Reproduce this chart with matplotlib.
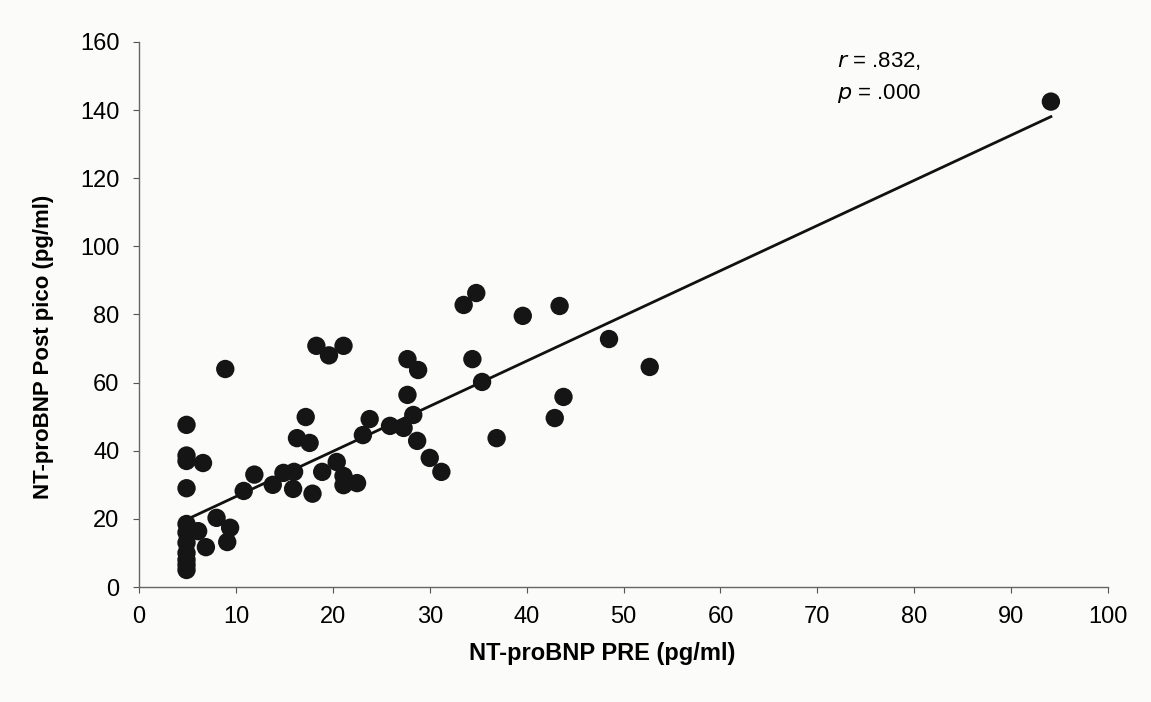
import numpy as np
import matplotlib
matplotlib.use("Agg")
import matplotlib.pyplot as plt

pre = [4.9, 4.9, 4.9, 4.9, 4.9, 4.9, 4.9, 4.9, 4.9, 4.9, 4.9,
       6.1, 6.6, 6.9, 8.0, 9.4, 9.1, 8.9,
       10.8, 11.9, 13.8, 14.9, 16.0, 15.9, 17.9, 18.9, 20.4, 21.1, 21.1, 22.5,
       16.3, 17.6, 17.2, 18.3, 19.6, 21.1, 23.1, 23.8, 25.9, 27.3, 28.7, 30.0,
       31.2, 28.3, 27.7, 27.7, 28.8, 34.4, 35.4, 33.5, 34.8, 39.6, 43.4, 48.5,
       52.7, 43.8, 42.9, 36.9, 94.1]
post = [47.6, 38.6, 37.0, 29.0, 18.5, 16.0, 13.0, 10.0, 8.0, 6.5, 5.0,
        16.4, 36.4, 11.7, 20.3, 17.4, 13.2, 64.0,
        28.2, 33.0, 30.0, 33.5, 33.8, 28.8, 27.4, 33.8, 36.7, 32.6, 29.9, 30.5,
        43.7, 42.3, 49.9, 70.8, 68.0, 70.8, 44.6, 49.3, 47.3, 46.7, 42.9, 37.9,
        33.8, 50.5, 56.4, 66.9, 63.7, 66.9, 60.2, 82.8, 86.3, 79.6, 82.5, 72.8,
        64.6, 55.8, 49.6, 43.7, 142.5]

# regression line as drawn in the reference
fit_slope = 1.326
fit_intercept = 13.3

x_ticks = [0, 10, 20, 30, 40, 50, 60, 70, 80, 90, 100]
y_ticks = [0, 20, 40, 60, 80, 100, 120, 140, 160]

plt.rcParams["font.family"] = ["Liberation Sans", "DejaVu Sans"]

fig = plt.figure(figsize=(11.51, 7.02), dpi=100)
fig.patch.set_facecolor("#fbfbfa")
ax = fig.add_axes([0.1208, 0.1638, 0.8419, 0.7764])
ax.set_facecolor("#fbfbfa")

x = np.array(pre)
y = np.array(post)
xl = np.array([x.min(), x.max()])
ax.plot(xl, fit_intercept + fit_slope * xl, color="#111111", lw=2.0, zorder=2)
ax.scatter(x, y, s=175, color="#151515", edgecolors="none", zorder=3)

ax.set_xlim(0, 100)
ax.set_ylim(0, 160)
ax.set_xticks(x_ticks)
ax.set_yticks(y_ticks)
ax.tick_params(labelsize=17, length=4, direction="out", color="#555555", pad=10)
for s in ["top", "right"]:
    ax.spines[s].set_visible(False)
for s in ["left", "bottom"]:
    ax.spines[s].set_color("#666666")
    ax.spines[s].set_linewidth(1.0)

ax.set_xlabel("NT-proBNP PRE (pg/ml)", fontsize=17, fontweight="bold")
ax.set_ylabel("NT-proBNP Post pico (pg/ml)", fontsize=16, fontweight="bold")
ax.xaxis.set_label_coords(0.478, -0.100)
ax.yaxis.set_label_coords(-0.088, 0.44)

ax.text(72.0, 157.5, "$\\it{r}$ = .832,\n$\\it{p}$ = .000", fontsize=16,
        va="top", ha="left", linespacing=1.55)

fig.savefig("out.png", dpi=100, facecolor=fig.get_facecolor())
